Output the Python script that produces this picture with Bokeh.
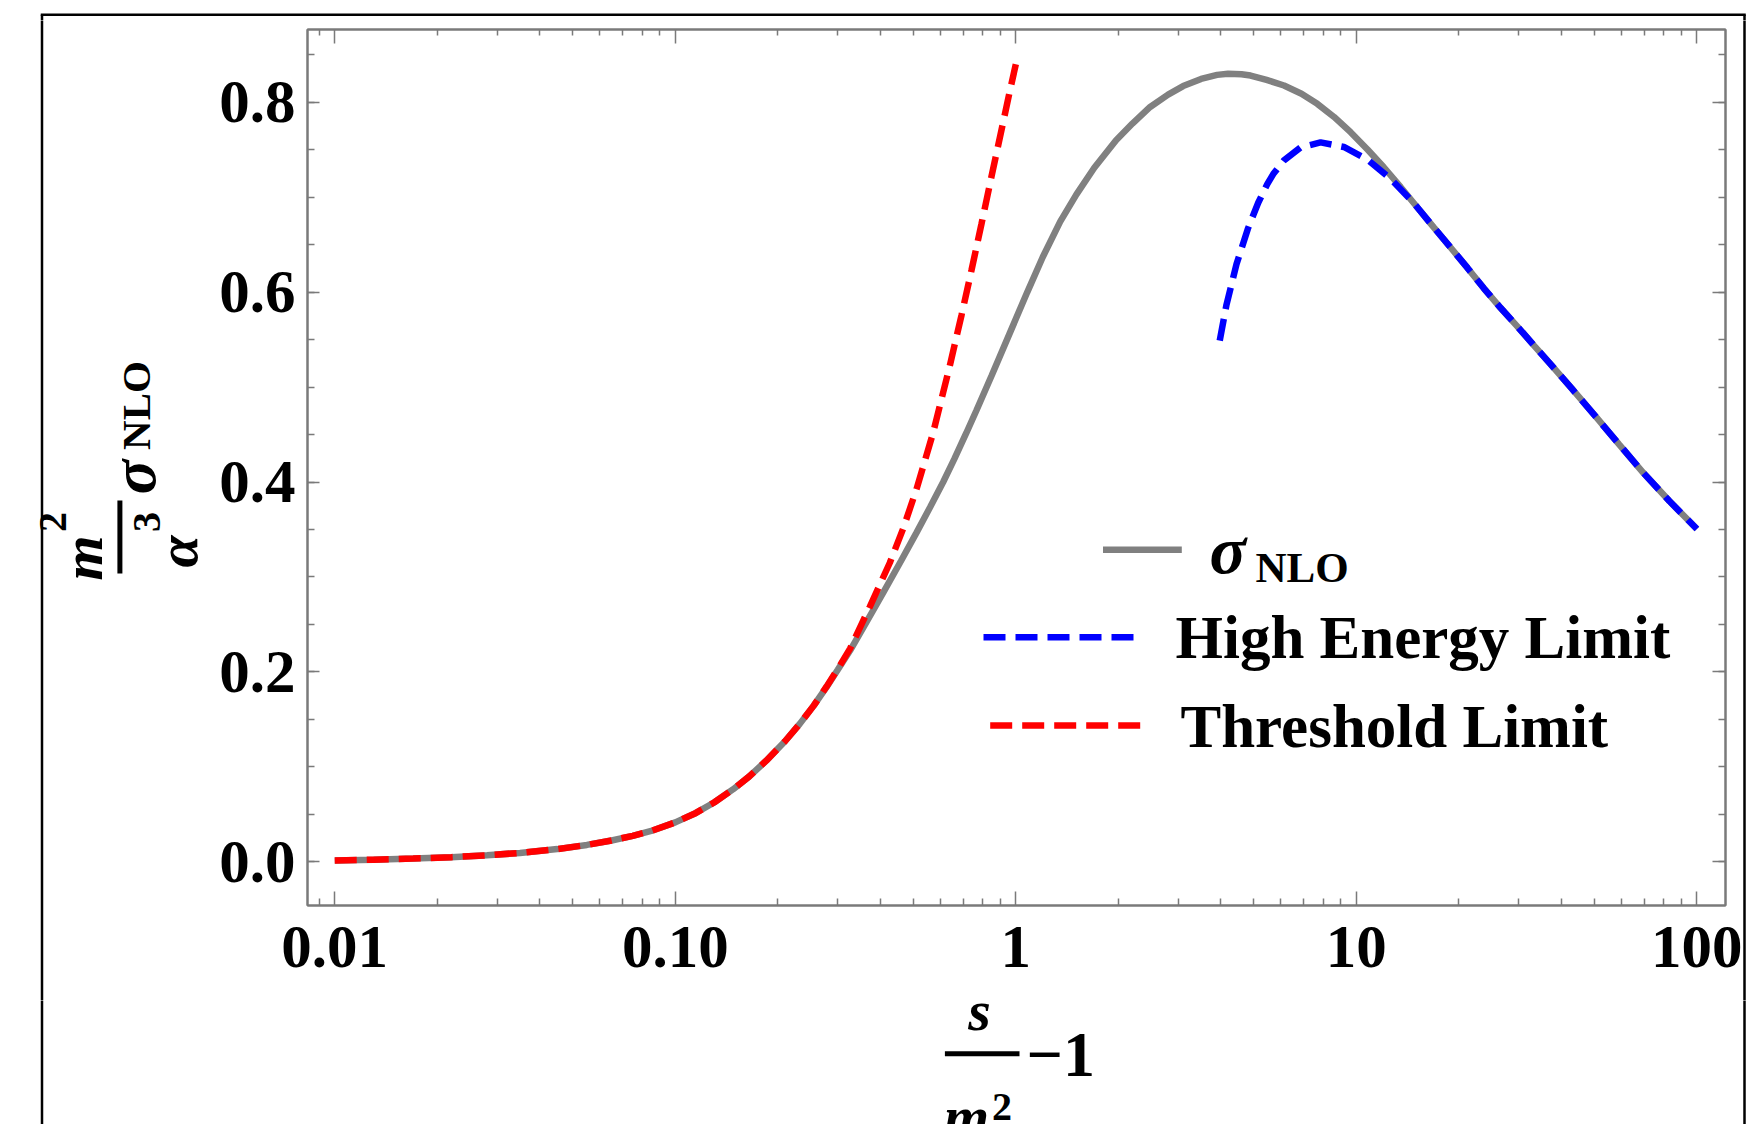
import math
from bokeh.plotting import figure
from bokeh.layouts import row, column
from bokeh.models import (Range1d, FixedTicker, LogAxis, LinearAxis, Label,
                          PrintfTickFormatter)
from bokeh.embed import file_html
from bokeh.resources import INLINE

# ---------------- data ----------------
nlo_x = [0.01, 0.013, 0.017, 0.022, 0.028, 0.035, 0.045, 0.055, 0.065, 0.075,
         0.085, 0.1, 0.115, 0.13, 0.148, 0.165, 0.185, 0.21, 0.232, 0.255,
         0.278, 0.30, 0.326, 0.36, 0.408, 0.46, 0.511, 0.56, 0.612, 0.66,
         0.715, 0.766, 0.85, 0.96, 1.08, 1.2, 1.35, 1.507, 1.7, 1.97,
         2.2, 2.48, 2.8, 3.1, 3.5, 3.9, 4.2, 4.6, 4.89, 5.45,
         6.13, 6.9, 7.68, 8.6, 9.62, 10.8, 12.04, 13.5, 15.09, 16.9,
         18.91, 21.2, 23.68, 26.5, 29.68, 33.2, 37.0, 43.0, 50.7, 59.0,
         69.5, 83.0, 100.0]
nlo_y = [0.0015, 0.0023, 0.0034, 0.0049, 0.0069, 0.0094, 0.0134, 0.0178, 0.0225, 0.0274,
         0.0325, 0.0415, 0.0515, 0.0625, 0.0765, 0.0900, 0.1065, 0.1270, 0.1453, 0.1645,
         0.1839, 0.2022, 0.2225, 0.2492, 0.2835, 0.3168, 0.3467, 0.3734, 0.4000, 0.4243,
         0.4514, 0.4753, 0.5124, 0.5568, 0.5998, 0.6370, 0.6742, 0.7029, 0.7310, 0.7600,
         0.7775, 0.7950, 0.8080, 0.8170, 0.8245, 0.8288, 0.8300, 0.8295, 0.8281, 0.8235,
         0.8176, 0.8090, 0.7983, 0.7845, 0.7684, 0.7500, 0.7315, 0.7105, 0.6894, 0.6680,
         0.6470, 0.6255, 0.6040, 0.5835, 0.5640, 0.5440, 0.5250, 0.4980, 0.4680, 0.4400,
         0.4100, 0.3800, 0.3505]

high_x = [3.97, 4.156, 4.446, 4.8, 5.15, 5.475, 5.70, 6.13, 6.855, 7.85,
          9.19, 10.76, 12.6, 14.42, 15.09, 16.9, 18.91, 21.2, 23.68, 26.5,
          29.68, 33.2, 37.0, 43.0, 50.7, 59.0, 69.5, 83.0, 100.0]
high_y = [0.5490, 0.5868, 0.6293, 0.6666, 0.6941, 0.7138, 0.7243, 0.7388, 0.7524, 0.7577,
          0.7529, 0.7399, 0.7193, 0.6976, 0.6894, 0.6680, 0.6470, 0.6255, 0.6040, 0.5835,
          0.5640, 0.5440, 0.5250, 0.4980, 0.4680, 0.4400, 0.4100, 0.3800, 0.3505]

thr_x = [0.01, 0.013, 0.017, 0.022, 0.028, 0.035, 0.045, 0.055, 0.065, 0.075,
         0.085, 0.1, 0.115, 0.13, 0.148, 0.165, 0.185, 0.21, 0.232, 0.255,
         0.278, 0.30, 0.326, 0.3725, 0.4266, 0.4669, 0.511, 0.5718, 0.640, 0.693,
         0.741, 0.793, 0.848, 0.908, 0.960, 1.0]
thr_y = [0.0015, 0.0023, 0.0034, 0.0049, 0.0069, 0.0094, 0.0134, 0.0178, 0.0225, 0.0274,
         0.0325, 0.0415, 0.0515, 0.0625, 0.0765, 0.0900, 0.1065, 0.1270, 0.1453, 0.1645,
         0.1845, 0.2030, 0.2245, 0.2686, 0.3150, 0.3510, 0.3925, 0.4520, 0.5225, 0.5760,
         0.6230, 0.6720, 0.7215, 0.7710, 0.8115, 0.8400]

x_ticks = [0.01, 0.1, 1, 10, 100]
x_tick_labels = ["0.01", "0.10", "1", "10", "100"]
y_ticks = [0.0, 0.2, 0.4, 0.6, 0.8]

legend_labels = ["High Energy Limit", "Threshold Limit"]

# ---------------- page layout (pixels) ----------------
TOTAL_W, TOTAL_H = 1746, 1124
TOP_H = 20            # top strip height
MID_H = 980           # middle row height (main plot)
BOT_H = TOTAL_H - TOP_H - MID_H
LEFT_W = 210          # strip holding the y title
RIGHT_W = 4           # strip holding the right border line
MAIN_W = TOTAL_W - LEFT_W - RIGHT_W

FL, FR, FT, FB = 307, 1725, 29, 905          # frame edges on the page
LX0, LX1 = -2.080, 2.084                      # log10 of x range
Y0, Y1 = -0.0460, 0.8766
BX_L, BX_R, BY_T = 41.5, 1744, 14.3           # outer black border

FONT = "Liberation Serif"
FRAME = "#7a7a7a"
GRAY = "#808080"
LW = 6.5
K = 0.344          # baseline correction of Bokeh text (fraction of font size)


def X(px):
    return 10 ** (LX0 + (px - FL) / (FR - FL) * (LX1 - LX0))


def Y(py):
    return Y1 - (py - FT) / (FB - FT) * (Y1 - Y0)


def no_align(f):
    if "frame_align" in f.properties():
        f.frame_align = False


# ---------------- main plot ----------------
p = figure(width=MAIN_W, height=MID_H, x_axis_type="log",
           x_range=Range1d(10 ** LX0, 10 ** LX1), y_range=Range1d(Y0, Y1),
           output_backend="svg", toolbar_location=None, title=None,
           min_border_left=FL - LEFT_W, min_border_right=LEFT_W + MAIN_W - FR,
           min_border_top=FT - TOP_H, min_border_bottom=TOP_H + MID_H - FB)
no_align(p)
p.background_fill_color = "white"
p.border_fill_color = "white"
p.outline_line_color = FRAME
p.outline_line_width = 2
p.xgrid.visible = False
p.ygrid.visible = False

minor_x = [k * 10.0 ** d for d in range(-3, 3) for k in range(2, 10)]
minor_y = [round(-0.05 + 0.05 * i, 2) for i in range(19)]
xt = FixedTicker(ticks=x_ticks, minor_ticks=minor_x)
yt = FixedTicker(ticks=y_ticks, minor_ticks=minor_y)


def style(ax, major_in, minor_in=7):
    ax.axis_line_color = FRAME
    ax.axis_line_width = 2
    ax.major_tick_line_color = FRAME
    ax.minor_tick_line_color = FRAME
    ax.major_tick_line_width = 1.5
    ax.minor_tick_line_width = 1.5
    ax.major_tick_in = major_in
    ax.major_tick_out = 0
    ax.minor_tick_in = minor_in
    ax.minor_tick_out = 0
    ax.major_label_text_font = FONT
    ax.major_label_text_font_style = "bold"
    ax.major_label_text_font_size = "61px"
    ax.major_label_text_color = "black"


xa = p.xaxis[0]
xa.ticker = xt
xa.major_label_overrides = {t: s for t, s in zip(x_ticks, x_tick_labels)}
style(xa, 14)
xa.major_label_standoff = 21

ya = p.yaxis[0]
ya.ticker = yt
ya.formatter = PrintfTickFormatter(format="%.1f")
style(ya, 12)
ya.major_label_standoff = 12

top = LogAxis(ticker=xt)
style(top, 14, 6)
top.major_label_text_font_size = "2px"
top.major_label_text_color = None
top.major_label_standoff = 0
p.add_layout(top, "above")

right = LinearAxis(ticker=yt)
style(right, 13)
right.major_label_text_font_size = "2px"
right.major_label_text_color = None
right.major_label_standoff = 0
p.add_layout(right, "right")

# curves
p.line(nlo_x, nlo_y, line_color=GRAY, line_width=LW)
p.line(high_x, high_y, line_color="#0000ff", line_width=LW, line_dash="22 10")
p.line(thr_x, thr_y, line_color="#ff0000", line_width=LW, line_dash="22 10")

# legend (drawn by hand)
p.line([X(1102.5), X(1181.3)], [Y(549.3), Y(549.3)], line_color=GRAY, line_width=LW)
p.line([X(983), X(1137)], [Y(636.7), Y(636.7)], line_color="#0000ff", line_width=LW,
       line_dash="22 10")
p.line([X(989.7), X(1142)], [Y(725), Y(725)], line_color="#ff0000", line_width=LW,
       line_dash="22 10")


def text_props(size, style, align, angle):
    return dict(text_font=FONT, text_font_style=style, text_font_size=f"{size}px",
                text_align=align, text_baseline="alphabetic", text_color="black",
                angle=angle)


def lab_main(px, py, text, size, style="bold", align="left"):
    p.add_layout(Label(x=X(px), y=Y(py - K * size), text=text,
                       **text_props(size, style, align, 0.0)))


lab_main(1209, 573, "σ", 68, "bold italic")
lab_main(1255, 582, "NLO", 43)
lab_main(1175, 658.3, legend_labels[0], 61)
lab_main(1180, 746.7, legend_labels[1], 61)


# ---------------- helper strips (frame covers the whole canvas) ----------------
def strip(w, h):
    f = figure(width=w, height=h, x_range=Range1d(0, w), y_range=Range1d(0, h),
               output_backend="svg", toolbar_location=None, title=None,
               x_axis_location=None, y_axis_location=None,
               min_border=0, min_border_left=0, min_border_right=0,
               min_border_top=0, min_border_bottom=0)
    no_align(f)
    f.outline_line_color = None
    f.background_fill_color = "white"
    f.border_fill_color = "white"
    f.grid.visible = False
    return f


def put(f, ox, oy, px, py, text, size, style="bold", align="left", angle=0.0):
    # (px, py) page position of the text baseline anchor; (ox, oy) page origin of strip
    if angle == 0.0:
        py -= K * size
    else:
        px -= K * size
    f.add_layout(Label(x=px - ox, y=f.height - (py - oy), text=text,
                       **text_props(size, style, align, angle)))


def seg(f, ox, oy, px0, py0, px1, py1, w):
    f.line([px0 - ox, px1 - ox], [f.height - (py0 - oy), f.height - (py1 - oy)],
           line_color="black", line_width=w)


# top strip: top border line
st = strip(TOTAL_W, TOP_H)
seg(st, 0, 0, BX_L - 1.25, BY_T, BX_R + 1.25, BY_T, 2.5)
seg(st, 0, 0, BX_L, BY_T, BX_L, TOP_H + 2, 2.5)
seg(st, 0, 0, BX_R, BY_T, BX_R, TOP_H + 2, 2.5)

# left strip: left border + y title  m^2/alpha^3 sigma_NLO (rotated)
sl = strip(LEFT_W, MID_H)
seg(sl, 0, TOP_H, BX_L, TOP_H - 2, BX_L, TOP_H + MID_H + 2, 2.5)
R = math.pi / 2
put(sl, 0, TOP_H, 101.5, 557.5, "m", 58, "bold italic", "center", R)
put(sl, 0, TOP_H, 66.5, 521.5, "2", 40, "bold", "center", R)
seg(sl, 0, TOP_H, 119.4, 500, 119.4, 573, 5)
put(sl, 0, TOP_H, 196.5, 551, "α", 58, "bold italic", "center", R)
put(sl, 0, TOP_H, 160, 521.5, "3", 40, "bold", "center", R)
put(sl, 0, TOP_H, 155, 476.5, "σ", 64, "bold italic", "center", R)
put(sl, 0, TOP_H, 150, 405, "NLO", 41, "bold", "center", R)

# right strip: right border line
sr = strip(RIGHT_W, MID_H)
seg(sr, LEFT_W + MAIN_W, TOP_H, BX_R, TOP_H - 2, BX_R, TOP_H + MID_H + 2, 2.5)

# bottom strip: border lines + x title  s/m^2 - 1
OY = TOP_H + MID_H
sb = strip(TOTAL_W, BOT_H)
seg(sb, 0, OY, BX_L, OY - 2, BX_L, TOTAL_H + 2, 2.5)
seg(sb, 0, OY, BX_R, OY - 2, BX_R, TOTAL_H + 2, 2.5)
put(sb, 0, OY, 979, 1030, "s", 58, "bold italic", "center")
seg(sb, 0, OY, 944.4, 1053.3, 1019, 1053.3, 5)
put(sb, 0, OY, 1026, 1076.7, "\u22121", 64, "bold")
put(sb, 0, OY, 966, 1136, "m", 58, "bold italic", "center")
put(sb, 0, OY, 1001.5, 1120, "2", 40, "bold", "center")

layout = column(st, row(sl, p, sr), sb)

open("out.html", "w").write(file_html(layout, INLINE))
